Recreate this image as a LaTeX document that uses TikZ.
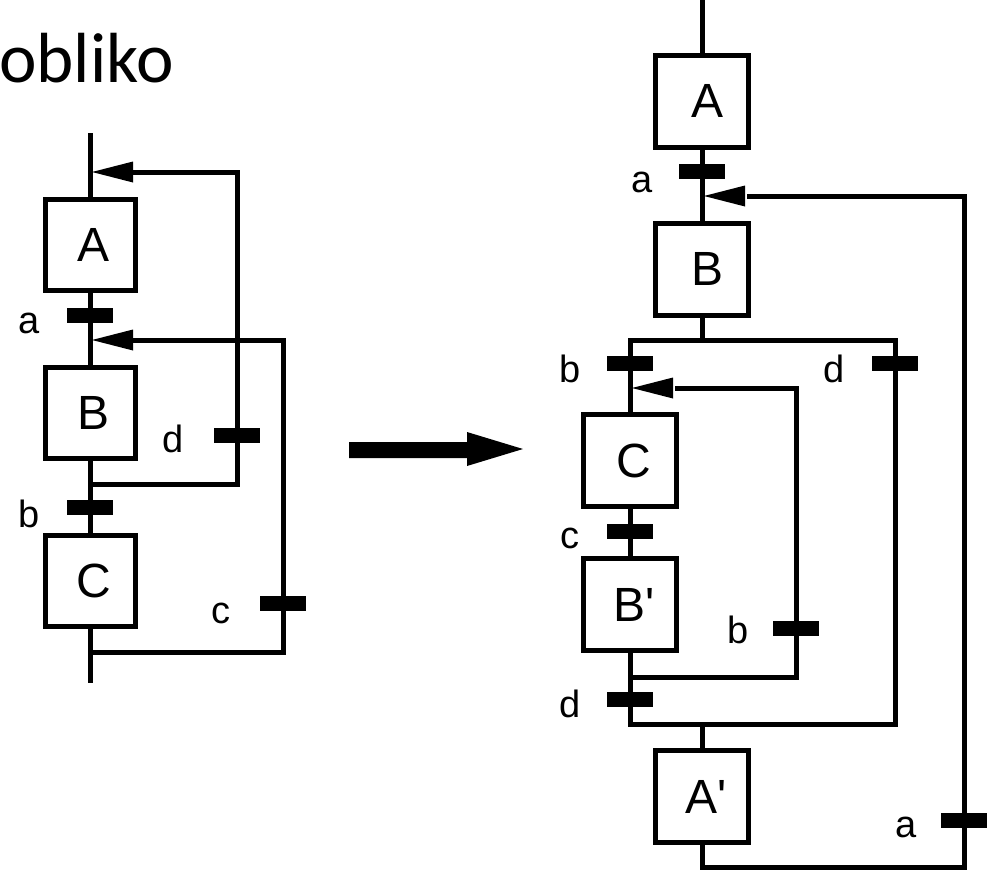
\documentclass[tikz,border=0pt]{standalone}
\usepackage{fontspec}
\newfontfamily\arialfont{Liberation Sans}
\newfontfamily\titlefont{Carlito}
\newcommand\headleft[1]{\fill (#1) -- ++(41,-10.5) -- ++(0,21) -- cycle;}
\begin{document}
\begin{tikzpicture}[x=1pt,y=-1pt,
  wire/.style={line width=5pt},
  stepbox/.style={draw,line width=5pt,minimum width=90pt,minimum height=91pt,inner sep=0pt,font=\arialfont\fontsize{48}{50}\selectfont},
  stepboxR/.style={stepbox,minimum width=93pt,minimum height=92pt},
  trans/.style={fill=black,draw=none,minimum width=46pt,minimum height=15pt,inner sep=0pt,outer sep=0pt},
  lbl/.style={anchor=base,inner sep=0pt,font=\arialfont\fontsize{38}{40}\selectfont}]
\useasboundingbox (0,0) rectangle (999,873);
% title
\node[anchor=base west,inner sep=0pt,font=\titlefont\fontsize{71}{75}\selectfont] (title) at (-1,82) {obliko};

% ---------- left diagram ----------
\node[stepbox] (LA) at (90,245) {\hspace{8pt}A};
\node[stepbox] (LB) at (90,413) {\hspace{8pt}B};
\node[stepbox] (LC) at (90,580.5) {\hspace{8pt}C};
\node[trans] (Lta) at (90,315.5) {};
\node[trans] (Ltb) at (90,507.5) {};
\node[trans] (Ltd) at (237,435.5) {};
\node[trans] (Ltc) at (283,603.5) {};
\node[lbl] (Lla) at (29,333) {a};
\node[lbl] (Llb) at (29,527) {b};
\node[lbl] (Lld) at (173,452) {d};
\node[lbl] (Llc) at (221,623) {c};
\coordinate (Ltop) at (90,133);
\coordinate (Lbot) at (90,683);
\coordinate (Ljd) at (90,484);
\coordinate (Ljdr) at (237,484);
\coordinate (Ldtop) at (237,172);
\coordinate (LbaseA) at (133,172);
\coordinate (LtipA) at (92,172);
\coordinate (Ljc) at (90,652);
\coordinate (Ljcr) at (283,652);
\coordinate (Lctop) at (283,340);
\coordinate (LbaseB) at (133,340);
\coordinate (LtipB) at (92,340);

\draw[wire] (Ltop) -- (LA.north);
\draw[wire] (LA.south) -- (Lta) -- (LB.north);
\draw[wire] (LB.south) -- (Ltb) -- (LC.north);
\draw[wire] (LC.south) -- (Lbot);
\draw[wire] (Ljd) -- (Ljdr) -- (Ltd) -- (Ldtop) -- (LbaseA);
\draw[wire] (Ljc) -- (Ljcr) -- (Ltc) -- (Lctop) -- (LbaseB);
\headleft{LtipA}
\headleft{LtipB}

% ---------- big arrow ----------
\fill (349,442) -- (467,442) -- (467,432) -- (523,449) -- (467,466) -- (467,458) -- (349,458) -- cycle;

% ---------- right diagram ----------
\node[stepboxR] (RA) at (702,101) {\hspace{10pt}A};
\node[stepboxR] (RB) at (702,269) {\hspace{10pt}B};
\node[stepboxR] (RC) at (630,460.5) {\hspace{8pt}C};
\node[stepboxR] (RBp) at (630,604.5) {\hspace{8pt}B'};
\node[stepboxR] (RAp) at (702,796.5) {\hspace{8pt}A'};
\node[trans] (Rta) at (702,171.5) {};
\node[trans] (Rtb1) at (630,363.5) {};
\node[trans] (Rtd1) at (895,363.5) {};
\node[trans] (Rtc) at (630,531.5) {};
\node[trans] (Rtb2) at (796,628) {};
\node[trans] (Rtd2) at (630,699.5) {};
\node[trans] (Rta2) at (964,820) {};
\node[lbl] (Rla) at (642,192) {a};
\node[lbl] (Rlb1) at (570,382) {b};
\node[lbl] (Rld1) at (834,382) {d};
\node[lbl] (Rlc) at (570,548) {c};
\node[lbl] (Rlb2) at (738,643) {b};
\node[lbl] (Rld2) at (570,717) {d};
\node[lbl] (Rla2) at (906,837) {a};
\coordinate (Rtop) at (702,0);
\coordinate (RjB) at (702,340);
\coordinate (RjBL) at (630,340);
\coordinate (RjBR) at (895,340);
\coordinate (Rjb2) at (630,677);
\coordinate (Rjb2r) at (796,677);
\coordinate (Rb2top) at (796,388);
\coordinate (RbaseC) at (675,388);
\coordinate (RtipC) at (632,388);
\coordinate (RjdL) at (630,724);
\coordinate (RjdR) at (895,724);
\coordinate (RjA) at (702,724);
\coordinate (Rjbot) at (702,867);
\coordinate (Rjbotr) at (964,867);
\coordinate (Ratop) at (964,196);
\coordinate (RbaseB) at (747,196);
\coordinate (RtipB) at (704,196);

\draw[wire] (Rtop) -- (RA.north);
\draw[wire] (RA.south) -- (Rta) -- (RB.north);
\draw[wire] (RB.south) -- (RjB);
\draw[wire] (Rtb1) -- (RjBL) -- (RjBR) -- (Rtd1);
\draw[wire] (RC.north) -- (Rtb1);
\draw[wire] (RC.south) -- (Rtc) -- (RBp.north);
\draw[wire] (RBp.south) -- (Rjb2) -- (Rtd2) -- (RjdL) -- (RjdR) -- (Rtd1);
\draw[wire] (Rjb2) -- (Rjb2r) -- (Rtb2) -- (Rb2top) -- (RbaseC);
\draw[wire] (RjA) -- (RAp.north);
\draw[wire] (RAp.south) -- (Rjbot) -- (Rjbotr) -- (Rta2) -- (Ratop) -- (RbaseB);
\headleft{RtipC}
\headleft{RtipB}
\end{tikzpicture}
\end{document}
